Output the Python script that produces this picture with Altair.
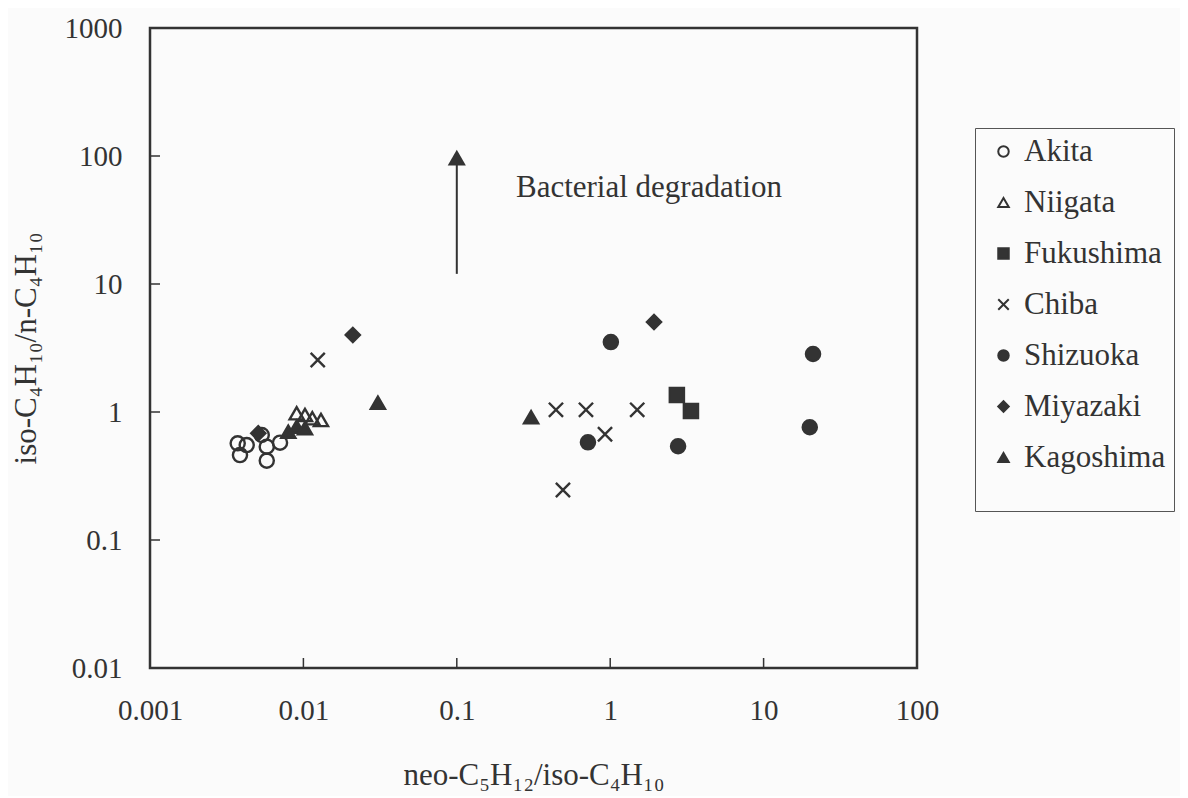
import altair as alt
import pandas as pd

regions = ["Akita", "Niigata", "Fukushima", "Chiba", "Shizuoka", "Miyazaki", "Kagoshima"]

akita_x = [0.00373, 0.00427, 0.00386, 0.00577, 0.00704, 0.00577, 0.00535]
akita_y = [0.569, 0.552, 0.461, 0.536, 0.576, 0.417, 0.661]
niigata_x = [0.00904, 0.01024, 0.01143, 0.01302]
niigata_y = [0.977, 0.947, 0.893, 0.866]
fukushima_x = [2.72, 3.36]
fukushima_y = [1.36, 1.02]
chiba_x = [0.0124, 0.443, 0.695, 1.50, 0.925, 0.492]
chiba_y = [2.55, 1.04, 1.04, 1.04, 0.67, 0.246]
shizuoka_x = [1.01, 0.716, 2.77, 21.0, 20.0]
shizuoka_y = [3.52, 0.58, 0.54, 2.84, 0.76]
miyazaki_x = [0.021, 1.93, 0.00508]
miyazaki_y = [4.0, 5.05, 0.682]
kagoshima_x = [0.0306, 0.305, 0.00797, 0.00904, 0.01024]
kagoshima_y = [1.18, 0.91, 0.702, 0.768, 0.746]

x_ticks = [0.01, 0.1, 1, 10]
y_ticks = [0.1, 1, 10, 100]
x_labels = [0.001, 0.01, 0.1, 1, 10, 100]
y_labels = [0.01, 0.1, 1, 10, 100, 1000]

arrow_x = [0.1]
arrow_y_start = [12]
arrow_y_end = [97]
note_x = [0.243]
note_y = [56]
note_text = ["Bacterial degradation"]

series = {
    "Akita": (akita_x, akita_y),
    "Niigata": (niigata_x, niigata_y),
    "Fukushima": (fukushima_x, fukushima_y),
    "Chiba": (chiba_x, chiba_y),
    "Shizuoka": (shizuoka_x, shizuoka_y),
    "Miyazaki": (miyazaki_x, miyazaki_y),
    "Kagoshima": (kagoshima_x, kagoshima_y),
}
rows = []
for r in regions:
    xs, ys = series[r]
    for a, b in zip(xs, ys):
        rows.append({"region": r, "x": a, "y": b})
df = pd.DataFrame(rows)

INK = "#333333"
FONT = "Liberation Serif"
XPATH = "M-1,-1L1,1M-1,1L1,-1"

xscale = alt.Scale(type="log", domain=[0.001, 100], nice=False)
yscale = alt.Scale(type="log", domain=[0.01, 1000], nice=False)

xenc = alt.X("x:Q", scale=xscale,
             axis=alt.Axis(values=x_labels, format="~g", title="neo-C₅H₁₂/iso-C₄H₁₀",
                           labelPadding=28, titlePadding=35))
yenc = alt.Y("y:Q", scale=yscale,
             axis=alt.Axis(values=y_labels, format="~g", title="iso-C₄H₁₀/n-C₄H₁₀",
                           labelPadding=28, titlePadding=22))

legend = alt.Legend(title=" ", titleOrient="bottom", titleFontSize=20, titlePadding=10,
                    orient="none", legendX=825, legendY=100,
                    symbolStrokeColor=INK, symbolStrokeWidth=2)

points = alt.Chart(df).mark_point(filled=False, strokeWidth=2.4, size=200, opacity=1).encode(
    x=xenc,
    y=yenc,
    shape=alt.Shape("region:N", sort=regions,
                    scale=alt.Scale(domain=regions,
                                    range=["circle", "triangle-up", "square", XPATH,
                                           "circle", "diamond", "triangle-up"]),
                    legend=legend),
    fill=alt.Fill("region:N", sort=regions,
                  scale=alt.Scale(domain=regions,
                                  range=["transparent", "transparent", INK, INK, INK, INK, INK]),
                  legend=legend),
    stroke=alt.Stroke("region:N", sort=regions,
                      scale=alt.Scale(domain=regions, range=[INK] * 7),
                      legend=legend),
)

xt_df = pd.DataFrame({"x": x_ticks})
xtick_layer = alt.Chart(xt_df).mark_rule(color=INK, strokeWidth=1.5).encode(
    x=alt.X("x:Q", scale=xscale),
    y=alt.value(640),
    y2=alt.value(630),
)

yt_df = pd.DataFrame({"y": y_ticks})
ytick_layer = alt.Chart(yt_df).mark_rule(color=INK, strokeWidth=1.5).encode(
    y=alt.Y("y:Q", scale=yscale),
    x=alt.value(0),
    x2=alt.value(10),
)

arrow_df = pd.DataFrame({"x": arrow_x, "y": arrow_y_start, "y2": arrow_y_end})
arrow_line = alt.Chart(arrow_df).mark_rule(color=INK, strokeWidth=2).encode(
    x=alt.X("x:Q", scale=xscale),
    y=alt.Y("y:Q", scale=yscale),
    y2="y2:Q",
)
head_df = pd.DataFrame({"x": arrow_x, "y": arrow_y_end})
arrow_head = alt.Chart(head_df).mark_point(shape="triangle-up", filled=True, size=330,
                                           color=INK, opacity=1).encode(
    x=alt.X("x:Q", scale=xscale),
    y=alt.Y("y:Q", scale=yscale),
)

note_df = pd.DataFrame({"x": note_x, "y": note_y, "t": note_text})
note = alt.Chart(note_df).mark_text(align="left", baseline="middle", font=FONT,
                                    fontSize=31, color=INK).encode(
    x=alt.X("x:Q", scale=xscale),
    y=alt.Y("y:Q", scale=yscale),
    text="t:N",
)

chart = alt.layer(xtick_layer, ytick_layer, arrow_line, arrow_head, note, points).properties(
    width=767,
    height=640,
    padding={"left": 142, "top": 20, "right": 263, "bottom": 128},
    autosize=alt.AutoSizeParams(type="none"),
    background="#fbfbfb",
).configure_view(
    stroke=INK, strokeWidth=2.5, fill=None,
).configure_axis(
    labelFont=FONT, labelFontSize=29, labelColor=INK,
    titleFont=FONT, titleFontSize=31, titleFontWeight="normal", titleColor=INK,
    domain=False, ticks=False, grid=False, labelFlush=False, labelOverlap=False,
).configure_legend(
    labelFont=FONT, labelFontSize=31, labelColor=INK, titleFont=FONT,
    symbolSize=110, symbolStrokeWidth=2, symbolStrokeColor=INK,
    strokeColor="#555555", padding=8, rowPadding=19, labelOffset=5,
    symbolOffset=5, labelLimit=400,
)

chart.save("out.html", embed_options={"renderer": "svg", "actions": False})
